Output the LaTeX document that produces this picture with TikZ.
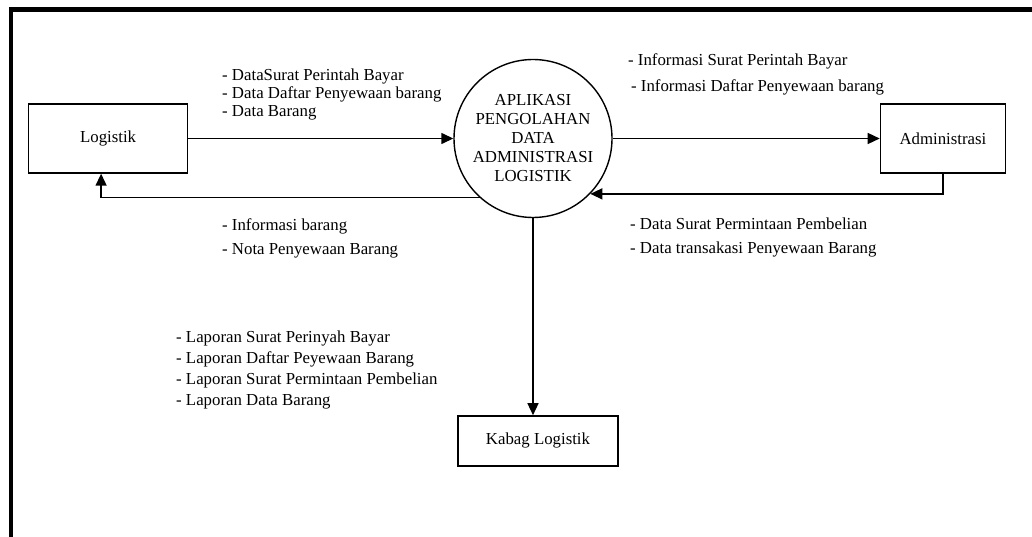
\documentclass[tikz,border=0pt]{standalone}
\usepackage{fontspec}
\setmainfont{Liberation Serif}
\usepackage{tikz}
\usetikzlibrary{arrows.meta,positioning}

\begin{document}
\begin{tikzpicture}[
  x=1pt,y=-1pt,
  every node/.style={font=\fontsize{16.8}{19}\selectfont},
  box/.style={draw,line width=1.4pt,minimum height=69pt,inner sep=0pt,align=center},
  proc/.style={draw,circle,line width=1.4pt,minimum size=158pt,inner sep=0pt,align=center},
  lbl/.style={anchor=north west,inner sep=0pt,align=left},
  arr/.style={-{Triangle[length=12pt,width=11pt]},line width=1.4pt},
  frame/.style={line width=4.5pt}
]
\useasboundingbox (0,0) rectangle (1032,537);
\draw[frame] (11,537) -- (11,9.5) -- (1032,9.5);
\node[proc] (apl) at (533,138.5) {APLIKASI\\PENGOLAHAN\\DATA\\ADMINISTRASI\\LOGISTIK};
\node[box,minimum width=159pt,left=265pt of apl] (logistik) {Logistik};
\node[box,minimum width=125pt,right=267pt of apl] (admin) {Administrasi};
\node[box,minimum width=160pt,minimum height=50pt,below=197pt of apl,xshift=5pt] (kabag) {Kabag Logistik};
% data flows
\draw[arr] (logistik)--(apl); \draw[arr] (apl)--(admin);
\draw[arr] (apl.228) -| ([xshift=-7pt]logistik.south);
\draw[arr] (admin.south) |- (apl.-44);
\draw[arr] (apl.south)--(apl.south |- kabag.north);
% flow labels
\node[lbl,font=\fontsize{16.8}{18}\selectfont] (datalog) at (222,69)
  {- DataSurat Perintah Bayar\\- Data Daftar Penyewaan barang\\- Data Barang};
\node[lbl,font=\fontsize{16.8}{24}\selectfont] (infolog) at (222,218)
  {- Informasi barang\\- Nota Penyewaan Barang};
\node[lbl,font=\fontsize{16.8}{26}\selectfont] (infoadm) at (628,53)
  {- Informasi Surat Perintah Bayar\\\hspace*{3pt}- Informasi Daftar Penyewaan barang};
\node[lbl,font=\fontsize{16.8}{24}\selectfont] (dataadm) at (630,218)
  {- Data Surat Permintaan Pembelian\\- Data transakasi Penyewaan Barang};
\node[lbl,font=\fontsize{16.8}{21}\selectfont] (lapkabag) at (176,331)
  {- Laporan Surat Perinyah Bayar\\- Laporan Daftar Peyewaan Barang\\- Laporan Surat Permintaan Pembelian\\- Laporan Data Barang};
\end{tikzpicture}
\end{document}
